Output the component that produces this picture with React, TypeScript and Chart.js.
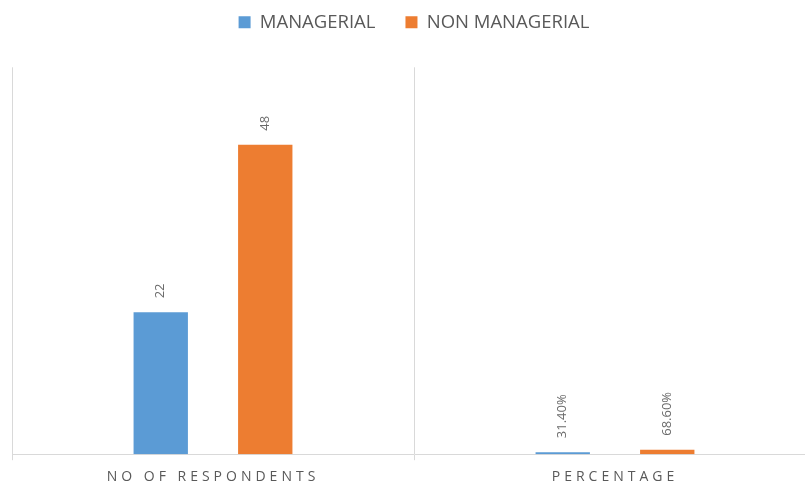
import React, { useEffect, useRef } from 'react';
import { Chart, registerables } from 'chart.js';

Chart.register(...registerables);

const categories = ['NO OF RESPONDENTS', 'PERCENTAGE'];
const seriesNames = ['MANAGERIAL', 'NON MANAGERIAL'];
const managerial = [22, 0.314];
const nonManagerial = [48, 0.686];
const seriesColors = ['#5B9BD5', '#ED7D31'];
const yMax = 60;

const formatValue = (v: number, i: number) => (i === 1 ? (v * 100).toFixed(2) + '%' : String(v));

const dataLabelPlugin = {
  id: 'rotatedDataLabels',
  afterDatasetsDraw(chart: any) {
    const ctx = chart.ctx;
    ctx.save();
    ctx.font = '13px "Open Sans"';
    ctx.fillStyle = '#6a6a6a';
    ctx.textAlign = 'left';
    ctx.textBaseline = 'middle';
    chart.data.datasets.forEach((ds: any, di: number) => {
      const meta = chart.getDatasetMeta(di);
      meta.data.forEach((el: any, i: number) => {
        const text = formatValue(ds.data[i], i);
        ctx.save();
        ctx.translate(el.x, el.y - 14);
        ctx.rotate(-Math.PI / 2);
        ctx.fillText(text, 0, 0);
        ctx.restore();
      });
    });
    ctx.restore();
  },
};

const tickSpacingPlugin = {
  id: 'tickLetterSpacing',
  beforeDraw(chart: any) {
    const s: any = chart.scales.x;
    if (s && !s.__wrapped) {
      const orig = s.drawLabels;
      s.drawLabels = function (area: any) {
        const ctx: any = this.ctx;
        const prev = ctx.letterSpacing;
        ctx.letterSpacing = '4px';
        orig.call(this, area);
        ctx.letterSpacing = prev || '0px';
      };
      s.__wrapped = true;
    }
  },
};

export default function App() {
  const ref = useRef<HTMLCanvasElement | null>(null);
  useEffect(() => {
    if (!ref.current) return;
    const chart = new Chart(ref.current, {
      type: 'bar',
      data: {
        labels: categories,
        datasets: [
          { label: seriesNames[0], data: managerial, backgroundColor: seriesColors[0], borderWidth: 0 },
          { label: seriesNames[1], data: nonManagerial, backgroundColor: seriesColors[1], borderWidth: 0 },
        ],
      },
      options: {
        responsive: false,
        animation: false,
        datasets: { bar: { categoryPercentage: 0.52, barPercentage: 0.52 } },
        layout: { padding: { top: -17, left: 12, right: 26, bottom: -6 } },
        plugins: {
          legend: {
            position: 'top',
            labels: {
              boxWidth: 12,
              boxHeight: 12,
              padding: 30,
              color: '#595959',
              font: { family: 'Open Sans', size: 18.5 },
            },
          },
          title: {
            display: true,
            text: '',
            weight: 500,
            padding: { top: 0, bottom: 0 },
            font: { size: 20, lineHeight: 1.29 },
          },
          tooltip: { enabled: false },
        },
        scales: {
          x: {
            grid: { color: '#d9d9d9', offset: true, drawTicks: true, tickLength: 6 },
            border: { color: '#d9d9d9' },
            ticks: {
              color: '#595959',
              padding: 8,
              font: { family: 'Open Sans', size: 14 },
              maxRotation: 0,
            },
          },
          y: {
            display: false,
            min: 0,
            max: yMax,
          },
        },
      },
      plugins: [dataLabelPlugin, tickSpacingPlugin],
    } as any);
    return () => chart.destroy();
  }, []);
  return (
    <div style={{ position: 'fixed', left: 0, top: 0, width: 805, height: 487, overflow: 'hidden', background: '#fff' }}>
      <canvas ref={ref} width={842} height={487} style={{ display: 'block' }} />
    </div>
  );
}
